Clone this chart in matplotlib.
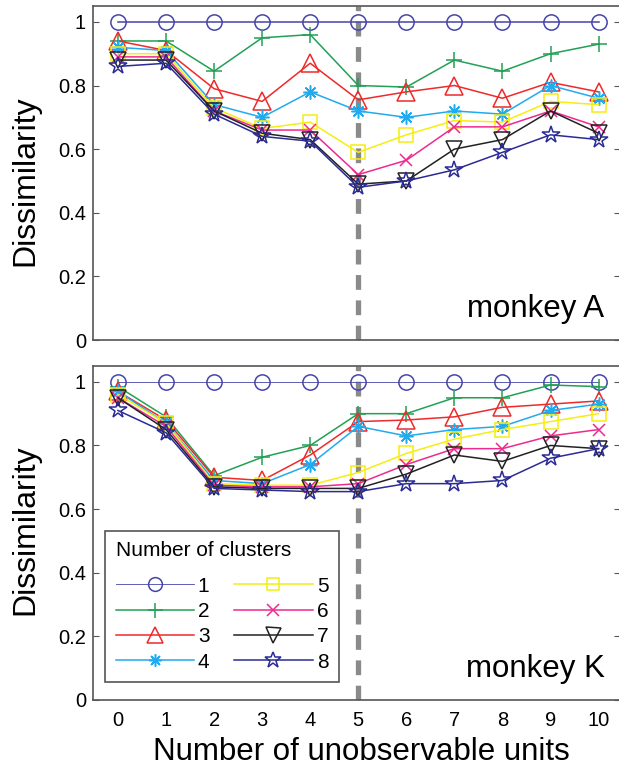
import matplotlib
matplotlib.use('Agg')
import matplotlib.pyplot as plt

plt.rcParams['font.family'] = ['Liberation Sans', 'DejaVu Sans']

units = list(range(11))
cluster_labels = ['1', '2', '3', '4', '5', '6', '7', '8']

# monkey A
a1 = [1.0] * 11
a2 = [0.94, 0.94, 0.845, 0.95, 0.96, 0.80, 0.795, 0.88, 0.845, 0.90, 0.93]
a3 = [0.94, 0.91, 0.79, 0.75, 0.87, 0.755, 0.78, 0.80, 0.76, 0.81, 0.78]
a4 = [0.92, 0.91, 0.74, 0.70, 0.78, 0.72, 0.70, 0.72, 0.71, 0.80, 0.76]
a5 = [0.90, 0.90, 0.73, 0.665, 0.685, 0.59, 0.645, 0.69, 0.685, 0.75, 0.74]
a6 = [0.89, 0.89, 0.72, 0.66, 0.66, 0.52, 0.565, 0.67, 0.67, 0.72, 0.67]
a7 = [0.88, 0.88, 0.72, 0.65, 0.63, 0.49, 0.50, 0.60, 0.63, 0.72, 0.65]
a8 = [0.86, 0.87, 0.71, 0.64, 0.625, 0.48, 0.50, 0.535, 0.59, 0.645, 0.63]

# monkey K
k1 = [1.0] * 11
k2 = [0.985, 0.89, 0.705, 0.763, 0.80, 0.90, 0.90, 0.95, 0.95, 0.99, 0.985]
k3 = [0.97, 0.88, 0.70, 0.69, 0.77, 0.875, 0.88, 0.89, 0.92, 0.93, 0.94]
k4 = [0.97, 0.87, 0.69, 0.68, 0.74, 0.86, 0.83, 0.85, 0.86, 0.91, 0.93]
k5 = [0.96, 0.87, 0.68, 0.675, 0.675, 0.715, 0.775, 0.82, 0.85, 0.875, 0.90]
k6 = [0.95, 0.86, 0.675, 0.67, 0.67, 0.68, 0.74, 0.79, 0.79, 0.83, 0.85]
k7 = [0.95, 0.85, 0.67, 0.665, 0.665, 0.665, 0.71, 0.77, 0.75, 0.80, 0.79]
k8 = [0.91, 0.84, 0.665, 0.66, 0.655, 0.655, 0.68, 0.68, 0.69, 0.76, 0.79]

colors = ['#4444aa', '#22a055', '#ee2a2a', '#22aaee', '#f5ee10', '#ee2a90', '#222222', '#2b2b95']
markers = ['o', '+', '^', (8, 2, 0), 's', 'x', 'v', '*']
msizes = [11, 12, 13, 10, 10, 9, 12, 13]

fig = plt.figure(figsize=(6.19, 7.67), dpi=100)
ax_a = fig.add_axes([0.1502, 0.5567, 0.851, 0.4355])
ax_k = fig.add_axes([0.1502, 0.0874, 0.851, 0.4355])


def draw(ax, series, name, thin_first=False):
    ax.axvline(5, color='#8a8a8a', lw=3.8, linestyle=(0, (2.8, 2.0)), zorder=1)
    handles = []
    for i, vals in enumerate(series):
        lw = 1.1
        if i == 0 and thin_first:
            lw = 0.6
        h, = ax.plot(units, vals, color=colors[i], marker=markers[i], ms=msizes[i],
                     mfc='none', mec=colors[i], mew=1.1, lw=lw, zorder=3,
                     label=cluster_labels[i])
        handles.append(h)
    ax.set_xlim(-0.52, 10.44)
    ax.set_ylim(0, 1.05)
    ax.set_yticks([0, 0.2, 0.4, 0.6, 0.8, 1])
    ax.set_yticklabels(['0', '0.2', '0.4', '0.6', '0.8', '1'])
    ax.set_xticks(units)
    ax.tick_params(axis='y', direction='in', left=True, right=True, length=4,
                   labelsize=14.5, color='#555555', pad=5)
    ax.tick_params(axis='x', direction='in', length=0, labelsize=14.5, pad=8)
    for s in ax.spines.values():
        s.set_color('#555555')
        s.set_linewidth(1.2)
    ax.set_ylabel('Dissimilarity', fontsize=23)
    ax.text(0.971, 0.069, name, transform=ax.transAxes, ha='right', va='baseline',
            fontsize=22.5)
    return handles


draw(ax_a, [a1, a2, a3, a4, a5, a6, a7, a8], 'monkey A')
ax_a.set_xticklabels([])
ax_a.yaxis.set_label_coords(-0.10, 0.476)
handles = draw(ax_k, [k1, k2, k3, k4, k5, k6, k7, k8], 'monkey K', thin_first=True)
ax_k.yaxis.set_label_coords(-0.10, 0.51)
ax_k.set_xlabel('Number of unobservable units', fontsize=22.5)
ax_k.xaxis.set_label_coords(0.51, -0.11)

leg = ax_k.legend(handles=handles, ncol=2, loc='lower left', bbox_to_anchor=(0.023, 0.054),
                  borderaxespad=0, title='Number of clusters', title_fontsize=15,
                  fontsize=15, handlelength=3.75, fancybox=False, edgecolor='#555555',
                  framealpha=1, alignment='left', labelspacing=0.3, columnspacing=1.2,
                  handletextpad=0.2, markerscale=0.9, borderpad=0.5)
leg.get_frame().set_linewidth(1.2)
leg._legend_box.sep = 12

fig.savefig('out.png', dpi=100)
